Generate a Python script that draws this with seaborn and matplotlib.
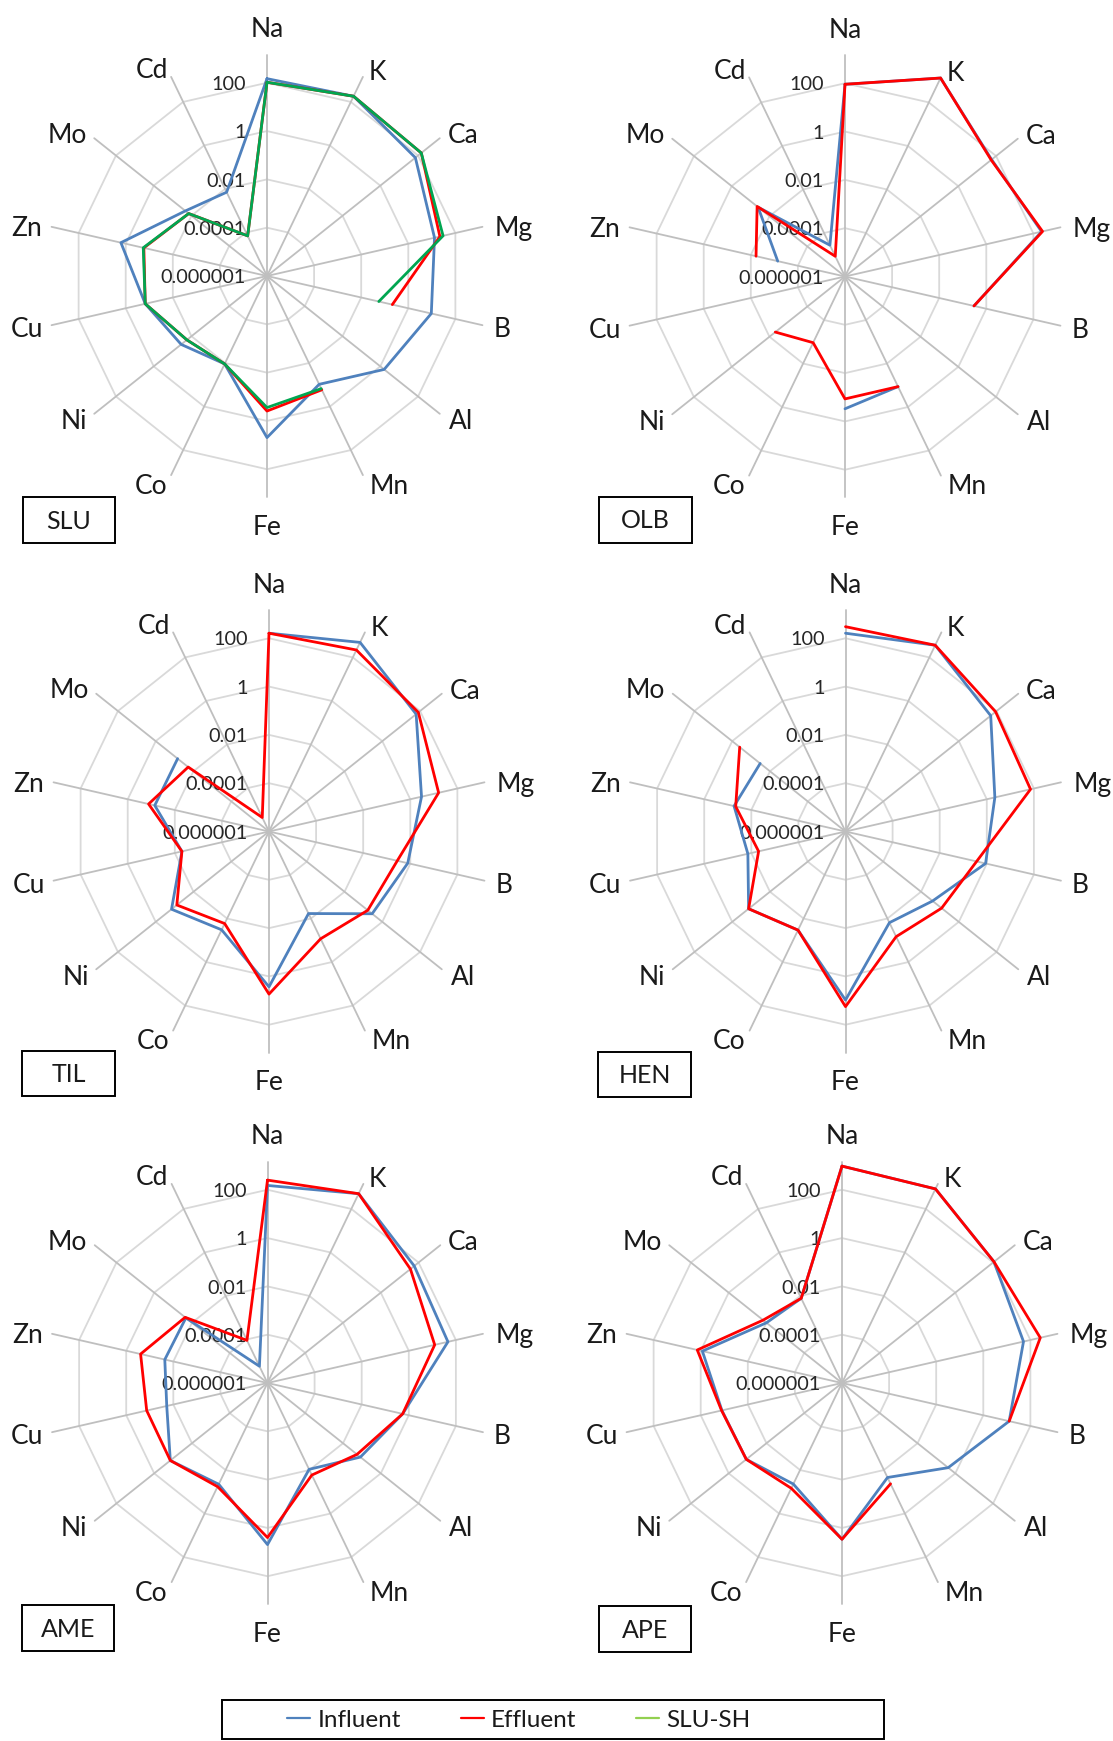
import numpy as np
import pandas as pd
import matplotlib
matplotlib.use("Agg")
import matplotlib.pyplot as plt
import seaborn as sns
from matplotlib.lines import Line2D
from matplotlib.patches import Rectangle
from matplotlib.ticker import NullLocator

# ---------------- data ----------------
elements = ["Na", "K", "Ca", "Mg", "B", "Al", "Mn", "Fe", "Co", "Ni", "Cu", "Zn", "Mo", "Cd"]
radial_ticks = [1e-6, 1e-4, 1e-2, 1, 100]
radial_tick_labels = ["0.000001", "0.0001", "0.01", "1", "100"]
series_names = ["Influent", "Effluent", "SLU-SH"]
panel_names = ["SLU", "OLB", "TIL", "HEN", "AME", "APE"]
nan = np.nan

slu_influent = [148, 182, 72, 13, 9.5, 1.6, 0.095, 4.9, 0.011, 0.035, 0.148, 1.6, 0.021, 0.0071]
slu_effluent = [105, 182, 148, 22, 0.21, nan, 0.17, 0.39, 0.011, 0.0175, 0.148, 0.17, 0.014, 0.00007]
slu_sh = [105, 182, 148, 30, 0.056, nan, 0.15, 0.28, 0.011, 0.0175, 0.148, 0.18, 0.014, 0.00007]

olb_influent = [91, 1320, 58, 224, 0.3, nan, 0.115, 0.3, nan, nan, nan, 0.00072, 0.04, 0.0000275]
olb_effluent = [91, 1320, 55, 245, 0.3, nan, 0.115, 0.117, 0.0011, 0.0049, nan, 0.006, 0.045, 0.0000085]

til_influent = [162, 490, 62, 3.0, 0.78, 0.29, 0.0059, 2.7, 0.033, 0.145, 0.005, 0.071, 0.069, nan]
til_effluent = [162, 219, 81, 16, 0.28, 0.17, 0.085, 5.4, 0.017, 0.076, 0.005, 0.13, 0.019, 0.0000044]

hen_influent = [162, 363, 49, 2.2, 0.89, 0.041, 0.0155, 9.5, 0.034, 0.135, 0.014, 0.054, 0.033, nan]
hen_effluent = [302, 363, 89, 72, 0.37, 0.123, 0.068, 17.8, 0.034, 0.135, 0.0049, 0.046, 0.4, nan]

ame_influent = [151, 500, 59, 46, 0.55, 0.083, 0.0093, 4.9, 0.045, 0.14, 0.019, 0.023, 0.021, 0.0000059]
ame_effluent = [251, 500, 37, 12.6, 0.55, 0.055, 0.017, 2.5, 0.058, 0.14, 0.135, 0.245, 0.023, 0.000091]

ape_influent = [955, 830, 112, 51, 12.6, 0.42, 0.022, 2.95, 0.044, 0.117, 0.126, 0.85, 0.01, 0.0078]
ape_effluent = [955, 830, 112, 263, 12.6, nan, 0.043, 2.95, 0.069, 0.117, 0.13, 1.4, 0.015, 0.0078]

panels = [
    {"Influent": slu_influent, "Effluent": slu_effluent, "SLU-SH": slu_sh},
    {"Influent": olb_influent, "Effluent": olb_effluent},
    {"Influent": til_influent, "Effluent": til_effluent},
    {"Influent": hen_influent, "Effluent": hen_effluent},
    {"Influent": ame_influent, "Effluent": ame_effluent},
    {"Influent": ape_influent, "Effluent": ape_effluent},
]

# ---------------- style / layout ----------------
sns.set_style("white")
plt.rcParams["font.family"] = ["Lato", "DejaVu Sans"]

palette = {"Influent": "#4F81BD", "Effluent": "#FF0000", "SLU-SH": "#00A651"}
legend_colors = {"Influent": "#4F81BD", "Effluent": "#FF0000", "SLU-SH": "#92D050"}
SPOKE = "#BFBFBF"
RING = "#D9D9D9"
TEXT = "#1a1a1a"

W, H = 1113, 1741
DPI = 100
PT = 72.0 / DPI  # points per pixel
fig = plt.figure(figsize=(W / DPI, H / DPI), dpi=DPI)
fig.patch.set_facecolor("white")

RMIN = 1e-6
RMAX = 10 ** 3.15
R_PX = 221.0  # axes radius in pixels

CAT_FS = 19
TICK_FS = 14.3
BOX_FS = 18
LEG_FS = 17.5

centers = [(267, 276), (845, 276.5), (269, 831.5), (845.5, 831.5), (267.5, 1383), (842, 1383)]
boxes = [(23, 497, 115, 543), (599, 496.5, 692, 542.5), (22, 1051, 115, 1096),
         (598, 1052, 691, 1097), (22, 1605, 114, 1651), (599, 1606, 691, 1652)]
# label centre offsets from the chart centre (pixels, y up) – Excel-like placement
label_offsets = [(0, 248), (110, 205), (196, 142), (247, 49), (235, -52), (194, -144),
                 (122, -208.5), (0, -249.5), (-116, -208.5), (-193.5, -144), (-240.5, -52),
                 (-240, 49), (-200, 142.5), (-115.5, 207)]

n = len(elements)
theta = np.linspace(0, 2 * np.pi, n + 1)  # closed


def build_frame(series_dict):
    rows = []
    for name, vals in series_dict.items():
        closed = list(vals) + [vals[0]]
        seg = 0
        gap = True
        for i, v in enumerate(closed):
            if np.isnan(v):
                gap = True
                continue
            if gap:
                seg += 1
                gap = False
            rows.append({"theta": theta[i], "value": v, "series": name, "unit": f"{name}-{seg}"})
    return pd.DataFrame(rows)


def cap_px(fs):
    return 0.717 * fs / PT


for idx, series_dict in enumerate(panels):
    cx, cy = centers[idx]
    ax = fig.add_axes([(cx - R_PX) / W, 1 - (cy + R_PX) / H, 2 * R_PX / W, 2 * R_PX / H],
                      projection="polar")
    ax.set_theta_zero_location("N")
    ax.set_theta_direction(-1)
    ax.set_rscale("log")
    ax.patch.set_alpha(0)

    # polygon rings
    for v in radial_ticks[1:]:
        ax.plot(theta, [v] * len(theta), color=RING, lw=1.3, zorder=1, clip_on=False)
    # spokes
    for t in theta[:-1]:
        ax.plot([t, t], [RMIN, RMAX], color=SPOKE, lw=1.3, zorder=1.1, clip_on=False)

    df = build_frame(series_dict)
    order = [s for s in series_names if s in series_dict]
    sns.lineplot(data=df, x="theta", y="value", hue="series", hue_order=order,
                 units="unit", estimator=None, sort=False, palette=palette,
                 legend=False, linewidth=2.0, ax=ax, zorder=3)
    for line in ax.lines:
        line.set_clip_on(False)

    ax.set_rlim(RMIN, RMAX)
    ax.set_xticks([])
    ax.set_yticks([])
    ax.yaxis.set_minor_locator(NullLocator())
    ax.grid(False)
    for sp in ax.spines.values():
        sp.set_visible(False)
    ax.set_xlabel("")
    ax.set_ylabel("")

    # radial tick labels along the Na spoke
    for v, lab in zip(radial_ticks, radial_tick_labels):
        ax.annotate(lab, xy=(0, v), xytext=(-21 * PT, -cap_px(TICK_FS) / 2 * PT),
                    textcoords="offset points", ha="right", va="baseline",
                    fontsize=TICK_FS, color="#262626", zorder=2)

    # category labels
    for (dx, dy), name in zip(label_offsets, elements):
        ax.annotate(name, xy=(0, RMIN), xytext=(dx * PT, (dy - cap_px(CAT_FS) / 2) * PT),
                    textcoords="offset points", ha="center", va="baseline",
                    fontsize=CAT_FS, color=TEXT, annotation_clip=False)

    # panel name box
    x0, y0, x1, y1 = boxes[idx]
    fig.patches.append(Rectangle((x0 / W, 1 - y1 / H), (x1 - x0) / W, (y1 - y0) / H,
                                 transform=fig.transFigure, fill=False, ec="black", lw=1.4))
    fig.text((x0 + x1) / 2 / W, 1 - ((y0 + y1) / 2 + cap_px(BOX_FS) / 2) / H, panel_names[idx],
             ha="center", va="baseline", fontsize=BOX_FS, color=TEXT)

# legend
fig.patches.append(Rectangle((222 / W, 1 - 1739 / H), 662 / W, 39 / H,
                             transform=fig.transFigure, fill=False, ec="black", lw=1.4))
handles = [Line2D([], [], color=legend_colors[s], lw=1.6) for s in series_names]
fig.legend(handles, series_names, loc="center", bbox_to_anchor=(519 / W, 1 - 1720 / H),
           ncol=3, frameon=False, fontsize=LEG_FS, handlelength=0.95, handletextpad=0.3,
           columnspacing=2.45, labelcolor=TEXT)

fig.savefig("out.png", dpi=DPI, facecolor="white")
